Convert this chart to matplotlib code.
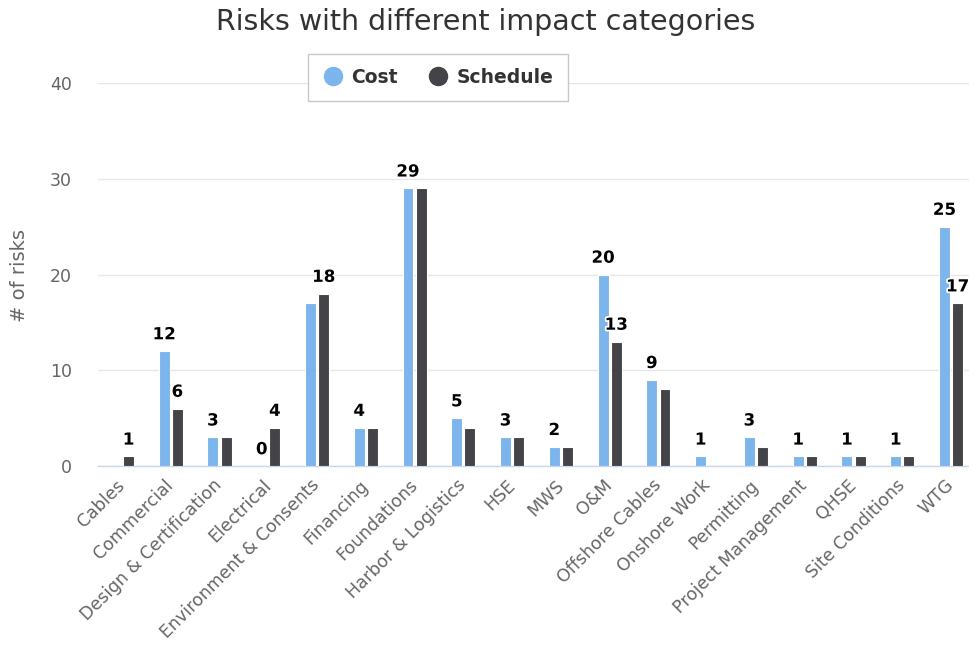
import matplotlib
matplotlib.use("Agg")
import matplotlib.pyplot as plt
import matplotlib.patheffects as pe
from matplotlib.lines import Line2D
import numpy as np

categories = ["Cables", "Commercial", "Design & Certification", "Electrical",
              "Environment & Consents", "Financing", "Foundations",
              "Harbor & Logistics", "HSE", "MWS", "O&M", "Offshore Cables",
              "Onshore Work", "Permitting", "Project Management", "QHSE",
              "Site Conditions", "WTG"]
cost = [0, 12, 3, 0, 17, 4, 29, 5, 3, 2, 20, 9, 1, 3, 1, 1, 1, 25]
schedule = [1, 6, 3, 4, 18, 4, 29, 4, 3, 2, 13, 8, 0, 2, 1, 1, 1, 17]

series_names = ["Cost", "Schedule"]
colors = ["#7cb5ec", "#434348"]

plt.rcParams['font.family'] = ['DejaVu Sans']

W, H = 970, 654
fig = plt.figure(figsize=(W / 100, H / 100), dpi=100)
# plot area in pixels: left 97.6, right 975.4, bottom 466, top 83
ax = fig.add_axes([97.6 / W, (H - 466) / H, 877.8 / W, 383 / H])

x = np.arange(len(categories))
offset = 0.135
width = 0.225
ax.bar(x - offset, cost, width, color=colors[0], edgecolor="white", linewidth=0.8, zorder=3)
ax.bar(x + offset, schedule, width, color=colors[1], edgecolor="white", linewidth=0.8, zorder=3)

# data labels; when the two labels of a category would collide, keep the higher one
min_gap = 2
outline = [pe.withStroke(linewidth=2.5, foreground="white")]
for i in range(len(categories)):
    c, s = cost[i], schedule[i]
    show_c, show_s = True, True
    if abs(c - s) < min_gap:
        if s > c:
            show_c = False
        else:
            show_s = False
    for show, xv, v in [(show_c, x[i] - offset, c), (show_s, x[i] + offset, s)]:
        if show:
            ax.annotate(str(v), (xv, v), xytext=(0, 8.5), textcoords="offset points",
                        ha="center", va="baseline", fontsize=12, fontweight="bold",
                        color="#000000", path_effects=outline, zorder=5)

ax.set_xlim(-0.5, len(categories) - 0.5)
ax.set_ylim(0, 40)
ax.set_yticks([0, 10, 20, 30, 40])
ax.yaxis.grid(True, color="#e6e6e6", linewidth=1, zorder=0)
ax.set_axisbelow(True)
for side in ["top", "right", "left"]:
    ax.spines[side].set_visible(False)
ax.spines["bottom"].set_color("#ccd6eb")
ax.spines["bottom"].set_linewidth(1)
ax.tick_params(axis="y", length=0, pad=18.5, labelsize=12.5, labelcolor="#666666")
ax.tick_params(axis="x", length=0, pad=12)

ax.set_xticks(x)
ax.set_xticklabels(categories, rotation=45, ha="right", va="center",
                   rotation_mode="anchor", fontsize=12.5, color="#666666")

fig.text(20 / W, 1 - 275 / H, "# of risks", rotation=90, ha="center", va="center",
         fontsize=14, color="#666666")

fig.text(486 / W, 1 - 22 / H, "Risks with different impact categories", ha="center",
         va="center", fontsize=20.5, color="#333333")

handles = [Line2D([], [], marker="o", linestyle="none", markersize=13,
                  markerfacecolor=col, markeredgecolor=col) for col in colors]
leg = fig.legend(handles, series_names, loc="center", bbox_to_anchor=(438 / W, 1 - 77.5 / H),
                 ncol=2, frameon=True, fancybox=False, framealpha=1, edgecolor="#c8c8c8",
                 prop={"weight": "bold", "size": 13.5}, handletextpad=0.45, columnspacing=1.6,
                 borderpad=0.75, handlelength=1.1)
leg.get_frame().set_linewidth(1)
for t in leg.get_texts():
    t.set_color("#333333")

fig.savefig("out.png", dpi=100)
